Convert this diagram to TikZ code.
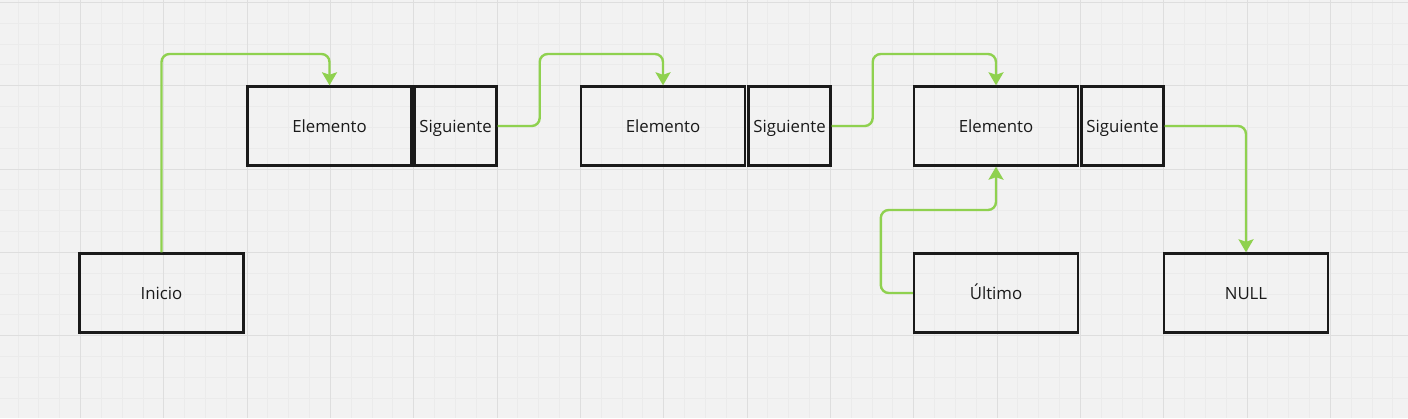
\documentclass[tikz,border=0pt]{standalone}
\usepackage{fontspec}
\setmainfont{Open Sans}
\usetikzlibrary{arrows.meta}
\definecolor{bg}{HTML}{F2F2F2}
\definecolor{gmaj}{HTML}{DEDEDE}
\definecolor{gmin}{HTML}{EBEBEB}
\definecolor{lgreen}{HTML}{8FD14F}
\definecolor{ink}{HTML}{1A1A1A}
\tikzset{
  cell/.style={draw=ink, line width=2.4pt, rectangle, minimum height=79pt,
    inner sep=0pt, text=ink, text height=13.5pt, text depth=0pt,
    font=\fontsize{16.8}{20}\selectfont},
  wide/.style={cell, minimum width=164pt},
  narrow/.style={cell, minimum width=82pt},
  link/.style={draw=lgreen, line width=2.4pt, rounded corners=8pt,
    -{Stealth[length=13pt,width=15pt,inset=2.5pt]}}
}
\begin{document}
\begin{tikzpicture}[x=1pt,y=-1pt]
\useasboundingbox (0,0) rectangle (1408,418);
\fill[bg] (0,0) rectangle (1408,418);
% minor grid
\foreach \i in {0,...,68} {
  \draw[gmin, line width=1pt] ({round(-3.33+20.833*\i)+0.5},0) -- ({round(-3.33+20.833*\i)+0.5},418);
}
\foreach \j in {0,...,20} {
  \draw[gmin, line width=1pt] (0,{round(2+20.833*\j)+0.5}) -- (1408,{round(2+20.833*\j)+0.5});
}
% major grid
\foreach \i in {0,...,17} {
  \draw[gmaj, line width=1.2pt] ({round(-3.33+83.333*\i)+0.5},0) -- ({round(-3.33+83.333*\i)+0.5},418);
}
\foreach \j in {0,...,5} {
  \draw[gmaj, line width=1.2pt] (0,{round(2+83.333*\j)+0.5}) -- (1408,{round(2+83.333*\j)+0.5});
}
% nodes
\node[wide]   (e1) at (329.5,126) {Elemento};
\node[narrow] (s1) at (455.5,126) {Siguiente};
\node[wide]   (e2) at (663,126) {Elemento};
\node[narrow] (s2) at (789.5,126) {Siguiente};
\node[wide]   (e3) at (996,126) {Elemento};
\node[narrow] (s3) at (1122.5,126) {Siguiente};
\node[wide]   (ini) at (161.5,293) {Inicio};
\node[wide]   (ult) at (996,293) {Último};
\node[wide]   (nul) at (1246,293) {NULL};
% links
\draw[link] (ini.north) -- (ini.north |- 0,54) -- (e1.north |- 0,54) -- (e1.north);
\draw[link] (s1.east) -- ++(42,0) coordinate (a1) -- (a1 |- 0,54) -- (e2.north |- 0,54) -- (e2.north);
\draw[link] (s2.east) -- ++(41,0) coordinate (a2) -- (a2 |- 0,54) -- (e3.north |- 0,54) -- (e3.north);
\draw[link] (s3.east) -- (nul.north |- s3.east) -- (nul.north);
\draw[link] (ult.west) -- ++(-32,0) coordinate (b1) -- (b1 |- 0,210) -- (e3.south |- 0,210) -- (e3.south);
\end{tikzpicture}
\end{document}
